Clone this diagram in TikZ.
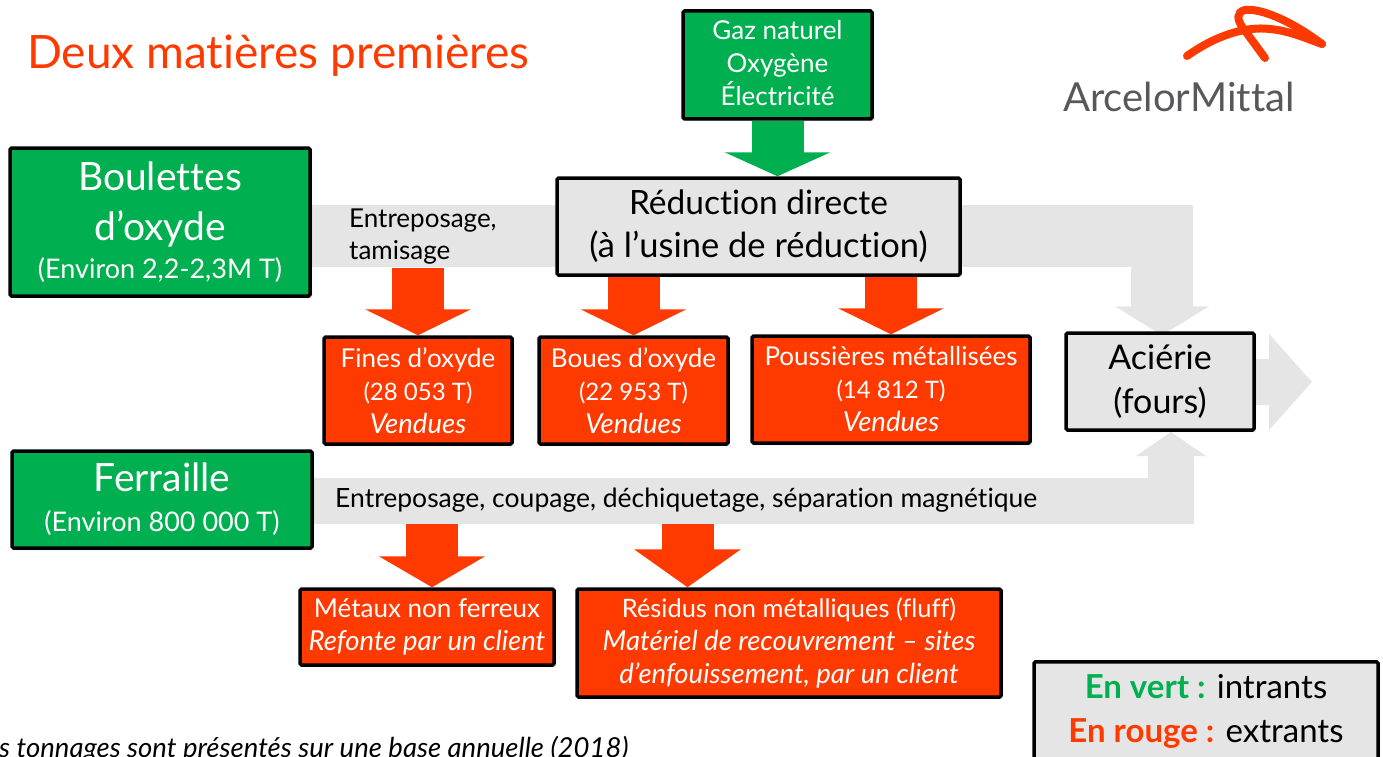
\documentclass[tikz,border=0pt]{standalone}
\usepackage{fontspec}
\setmainfont{Lato}[Ligatures=NoCommon]
\usetikzlibrary{arrows.meta,shadows,backgrounds}

\definecolor{vert}{HTML}{00B050}
\definecolor{rouge}{HTML}{FF3A00}
\definecolor{gris}{HTML}{E5E5E5}
\definecolor{logogris}{HTML}{58585A}

\newcommand{\taille}[2]{\fontsize{#1}{#2}\selectfont}
\newcommand{\penche}{\taille{27.5}{33}\itshape}

\tikzset{
  box/.style={draw=black,line width=3.5pt,rounded corners=1.5pt,align=center,inner sep=0pt,
    drop shadow={shadow xshift=2pt,shadow yshift=-2pt,opacity=0.35}},
  greenbox/.style={box,fill=vert,text=white},
  redbox/.style={box,fill=rouge,text=white,font=\taille{26}{33}},
  graybox/.style={box,fill=gris,text=black},
  redflow/.style={rouge,line width=52pt,-{Triangle[width=105pt,length=26pt]}},
  greenflow/.style={vert,line width=52pt,-{Triangle[width=105pt,length=24pt]}},
  grayflow/.style={gris,line width=62pt,line join=miter,-{Triangle[width=93pt,length=29pt]}},
  thinflow/.style={gris,line width=46pt,line join=miter},
  logostroke/.style={rouge,line width=8pt,line cap=round}
}

\begin{document}
\begin{tikzpicture}[x=1pt,y=-1pt]
\useasboundingbox (0,0) rectangle (1383,757);

% The title and the logo
\node[text=rouge,anchor=west,inner sep=0pt,font=\taille{46}{50}] (titre) at (27,56) {Deux matières premières};
\draw[logostroke] (1187,56) .. controls (1215,36) and (1245,26) .. (1270,29) .. controls (1290,31) and (1305,38) .. (1322,44);
\draw[logostroke] (1322,44) .. controls (1290,20) and (1260,8) .. (1245,10) .. controls (1236,12) and (1237,20) .. (1243,28) -- (1265,58);
\node[text=logogris,anchor=west,inner sep=0pt,font=\taille{40}{44}] (logo) at (1063,97) {ArcelorMittal};

% The inputs
\node[greenbox,minimum width=189pt,minimum height=108pt,font=\taille{26}{33},text depth=4pt] (gaz) at (777.5,65) {Gaz naturel\\Oxygène\\Électricité};
\node[greenbox,minimum width=300pt,minimum height=148pt,font=\taille{39}{50}] (boulettes) at (160,222) {Boulettes\\d’oxyde\\[-12pt]\taille{27}{30}(Environ 2,2-2,3M T)};
\node[greenbox,minimum width=300pt,minimum height=97pt,font=\taille{39}{44}] (ferraille) at (162,499.5) {Ferraille\\[-4pt]\taille{27}{32}(Environ 800 000 T)};

% The process steps
\node[graybox,minimum width=403pt,minimum height=97pt,font=\taille{33.5}{43}] (reduction) at (758.5,226.5) {Réduction directe\\\taille{34.5}{43}(à l’usine de réduction)};
\node[graybox,minimum width=188pt,minimum height=97pt,font=\taille{34}{44}] (acierie) at (1160,381.5) {Aciérie\\(fours)};

% The outputs
\node[redbox,minimum width=188pt,minimum height=107pt] (fines) at (418,390.5) {Fines d’oxyde\\\taille{24}{33}(28 053 T)\\\penche Vendues};
\node[redbox,minimum width=189pt,minimum height=107pt] (boues) at (633.5,390.5) {Boues d’oxyde\\\taille{24}{33}(22 953 T)\\\penche Vendues};
\node[redbox,minimum width=278pt,minimum height=107pt] (poussieres) at (891,389.5) {Poussières métallisées\\\taille{24}{33}(14 812 T)\\\penche Vendues};
\node[redbox,minimum width=254pt,minimum height=76pt] (metaux) at (427,627) {Métaux non ferreux\\\penche Refonte par un client};
\node[redbox,minimum width=424pt,minimum height=108pt] (fluff) at (789,643) {\taille{25.4}{33}Résidus non métalliques (fluff)\\\penche Matériel de recouvrement – sites\\\penche d’enfouissement, par un client};

% The legend and the note
\node[graybox,minimum width=344pt,minimum height=112pt,font=\taille{33}{44},anchor=north] (legende) at (1206,660) {\rule{0pt}{0pt}\\[-33pt]\textcolor{vert}{\bfseries En vert :} intrants\\\textcolor{rouge}{\bfseries En rouge :} extrants};
\node[anchor=west,inner sep=0pt,font=\taille{27.5}{30}\itshape] (note) at (-1,749) {s tonnages sont présentés sur une base annuelle (2018)};

% The gray flows
\coordinate (entree) at (1171,432);
\coordinate (sortie) at (1312,382);
\begin{pgfonlayer}{background}
  \draw[grayflow] (boulettes.east |- 0,236) -| ([xshift=2pt,yshift=-4pt]acierie.north);
  \draw[thinflow,-{Triangle[width=69pt,length=24pt]}] (ferraille.east |- 0,501) -| (entree);
  \draw[thinflow,-{Triangle[width=94pt,length=43pt]}] (acierie.east |- sortie) -- (sortie);
\end{pgfonlayer}
\node[anchor=west,align=left,inner sep=0pt,font=\taille{26}{32}] (tamisage) at (349,237) {Entreposage,\\tamisage};
\node[anchor=west,inner sep=0pt,font=\taille{26.5}{30}] (coupage) at (335,500) {Entreposage, coupage, déchiquetage, séparation magnétique};

% The block arrows
\draw[greenflow] (gaz.south) -- (gaz.south |- reduction.north);
\coordinate (bande) at (418,268);
\draw[redflow] (bande) -- (fines.north);
\foreach \sortant in {boues,poussieres}
{
  \draw[redflow] (reduction.south -| \sortant.north) -- (\sortant.north);
}
\coordinate (bandea) at (432,524);
\coordinate (bandeb) at (687.5,524);
\draw[redflow,-{Triangle[width=105pt,length=31pt]}] (bandea) -- (metaux.north -| bandea);
\draw[redflow,-{Triangle[width=105pt,length=38pt]}] (bandeb) -- (fluff.north -| bandeb);
\end{tikzpicture}
\end{document}
